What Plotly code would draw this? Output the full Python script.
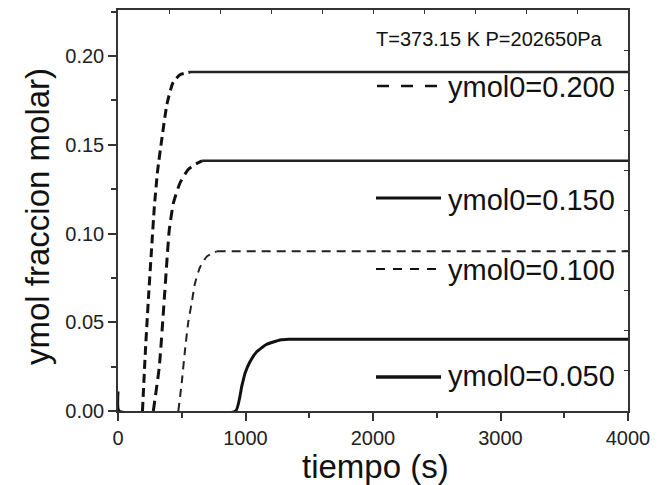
import plotly.graph_objects as go

# ---------------- data ----------------
t_200 = [0, 192, 215, 240, 262, 285, 310, 345, 384, 431, 486, 565, 4000]
y_200 = [0, 0, 0.034, 0.065, 0.090, 0.115, 0.135, 0.154, 0.173, 0.185, 0.1895, 0.191, 0.191]

t_150 = [0, 277, 324, 361, 384, 402, 434, 486, 549, 604, 659, 4000]
y_150 = [0, 0, 0.025, 0.061, 0.085, 0.102, 0.117, 0.1285, 0.136, 0.139, 0.141, 0.141]

t_100 = [0, 473, 500, 525, 551, 578, 604, 643, 696, 774, 4000]
y_100 = [0, 0, 0.016, 0.034, 0.050, 0.061, 0.072, 0.081, 0.087, 0.090, 0.090]

t_050 = [0, 8, 923, 970, 996, 1035, 1088, 1166, 1271, 1340, 4000]
y_050 = [0.011, 0, 0, 0.0137, 0.0212, 0.0278, 0.0334, 0.0376, 0.040, 0.0404, 0.0404]

legend_labels = ["ymol0=0.200", "ymol0=0.150", "ymol0=0.100", "ymol0=0.050"]
x_ticks = [0, 1000, 2000, 3000, 4000]
y_ticks = [0.00, 0.05, 0.10, 0.15, 0.20]
cond_text = "T=373.15 K P=202650Pa"
x_title = "tiempo (s)"
y_title = "ymol fraccion molar)"

# ---------------- layout geometry ----------------
# page is 661x485; the html body has an 8px margin, so the figure is 8px smaller
OFF = 8
W, H = 661 - OFF, 485 - OFF
PL, PR, PT, PB = 118, 628, 10, 411          # plot box in page pixels
X_MAX, Y_MAX = 4000, 0.226
FONT = "Liberation Sans, Arial, sans-serif"
INK = "#111111"
AX = "#333333"


def px(x):
    return (x - PL) / (PR - PL)


def py(y):
    return (PB - y) / (PB - PT)


def split(t, y):
    """rise part (from last zero) and plateau part (from first max)."""
    m = max(y)
    i_top = next(i for i, v in enumerate(y) if v >= m)
    i0 = max(i for i, v in enumerate(y[:i_top]) if v == 0)
    return (t[i0:i_top + 1], y[i0:i_top + 1]), (t[i_top:], y[i_top:])


fig = go.Figure()

# ymol0 = 0.200 : dashed rise, solid plateau
(r_t, r_y), (p_t, p_y) = split(t_200, y_200)
fig.add_trace(go.Scatter(x=r_t, y=r_y, mode="lines", showlegend=False,
                         line=dict(color=INK, width=3, dash="9px,5px", shape="spline", smoothing=0.5)))
fig.add_trace(go.Scatter(x=p_t, y=p_y, mode="lines", showlegend=False,
                         line=dict(color="#222222", width=2.5)))

# ymol0 = 0.150
(r_t, r_y), (p_t, p_y) = split(t_150, y_150)
fig.add_trace(go.Scatter(x=r_t, y=r_y, mode="lines", showlegend=False,
                         line=dict(color=INK, width=3, dash="10px,6px", shape="spline", smoothing=0.5)))
fig.add_trace(go.Scatter(x=p_t, y=p_y, mode="lines", showlegend=False,
                         line=dict(color="#222222", width=2.5)))

# ymol0 = 0.100 : short dashes
(r_t, r_y), (p_t, p_y) = split(t_100, y_100)
fig.add_trace(go.Scatter(x=r_t, y=r_y, mode="lines", showlegend=False,
                         line=dict(color="#222222", width=2, dash="8px,6px", shape="spline", smoothing=0.5)))
fig.add_trace(go.Scatter(x=p_t, y=p_y, mode="lines", showlegend=False,
                         line=dict(color="#222222", width=2, dash="9px,6px")))

# ymol0 = 0.050 : thick solid
fig.add_trace(go.Scatter(x=t_050, y=y_050, mode="lines", showlegend=False,
                         line=dict(color=INK, width=3, shape="spline", smoothing=0.4)))

# invisible trace for mirrored (top / right) axes
fig.add_trace(go.Scatter(x=[None], y=[None], xaxis="x2", yaxis="y2",
                         showlegend=False, hoverinfo="skip"))

# ---------------- legend look-alike (decoration) ----------------
leg = [
    (legend_labels[0], 87, 86, 377, 437, dict(width=2.5, dash="12px,12px")),
    (legend_labels[1], 200, 198, 376, 441, dict(width=3)),
    (legend_labels[2], 270, 269, 376, 436, dict(width=2, dash="9px,8px")),
    (legend_labels[3], 376, 377, 376, 441, dict(width=3.5)),
]
shapes = []
annotations = []
for text, ty, ly, x0, x1, ls in leg:
    shapes.append(dict(type="line", xref="paper", yref="paper",
                       x0=px(x0), x1=px(x1), y0=py(ly), y1=py(ly),
                       line=dict(color=INK, **ls)))
    annotations.append(dict(text=text, xref="paper", yref="paper",
                            x=px(617), y=py(ty), xanchor="right", yanchor="middle",
                            showarrow=False, font=dict(family=FONT, size=29, color=INK)))

annotations.append(dict(text=cond_text, xref="paper", yref="paper",
                        x=px(605), y=py(39), xanchor="right", yanchor="middle",
                        showarrow=False, font=dict(family=FONT, size=20, color=INK)))
annotations.append(dict(text=x_title, xref="paper", yref="paper",
                        x=px(375), y=py(466), xanchor="center", yanchor="middle",
                        showarrow=False, font=dict(family=FONT, size=33, color=INK)))
annotations.append(dict(text=y_title, xref="paper", yref="paper", textangle=-90,
                        x=px(38), y=py(217), xanchor="center", yanchor="middle",
                        showarrow=False, font=dict(family=FONT, size=33, color=INK)))

fig.update_layout(
    width=W, height=H,
    margin=dict(l=PL - OFF, r=661 - PR, t=PT - OFF, b=485 - PB, pad=0),
    paper_bgcolor="white", plot_bgcolor="white",
    font=dict(family=FONT, color="#222222"),
    shapes=shapes, annotations=annotations,
    showlegend=False,
    xaxis=dict(range=[0, X_MAX], tickvals=x_ticks, ticktext=[str(v) for v in x_ticks],
               ticks="outside", ticklen=8, tickwidth=1.5, tickcolor=AX,
               minor=dict(ticks="outside", dtick=500, tick0=0, ticklen=5, tickwidth=1.5, tickcolor=AX),
               showline=True, linecolor=AX, linewidth=1.5, showgrid=False, zeroline=False,
               tickfont=dict(family=FONT, size=20, color="#222222")),
    yaxis=dict(range=[0, Y_MAX], tickvals=y_ticks, ticktext=[f"{v:.2f}" for v in y_ticks],
               ticks="outside", ticklen=8, tickwidth=1.5, tickcolor=AX,
               minor=dict(ticks="outside", dtick=0.025, tick0=0, ticklen=5, tickwidth=1.5, tickcolor=AX),
               showline=True, linecolor=AX, linewidth=1.5, showgrid=False, zeroline=False,
               tickfont=dict(family=FONT, size=20, color="#222222")),
    xaxis2=dict(overlaying="x", side="top", range=[0, X_MAX], tick0=0, dtick=X_MAX / 10,
                ticks="inside", ticklen=4, tickwidth=1.2, tickcolor=AX,
                showticklabels=False, showline=True, linecolor=AX, linewidth=1.5,
                showgrid=False, zeroline=False),
    yaxis2=dict(overlaying="y", side="right", range=[0, Y_MAX], tick0=0, dtick=Y_MAX / 10,
                ticks="inside", ticklen=4, tickwidth=1.2, tickcolor=AX,
                showticklabels=False, showline=True, linecolor=AX, linewidth=1.5,
                showgrid=False, zeroline=False),
)

fig.write_html("out.html")
